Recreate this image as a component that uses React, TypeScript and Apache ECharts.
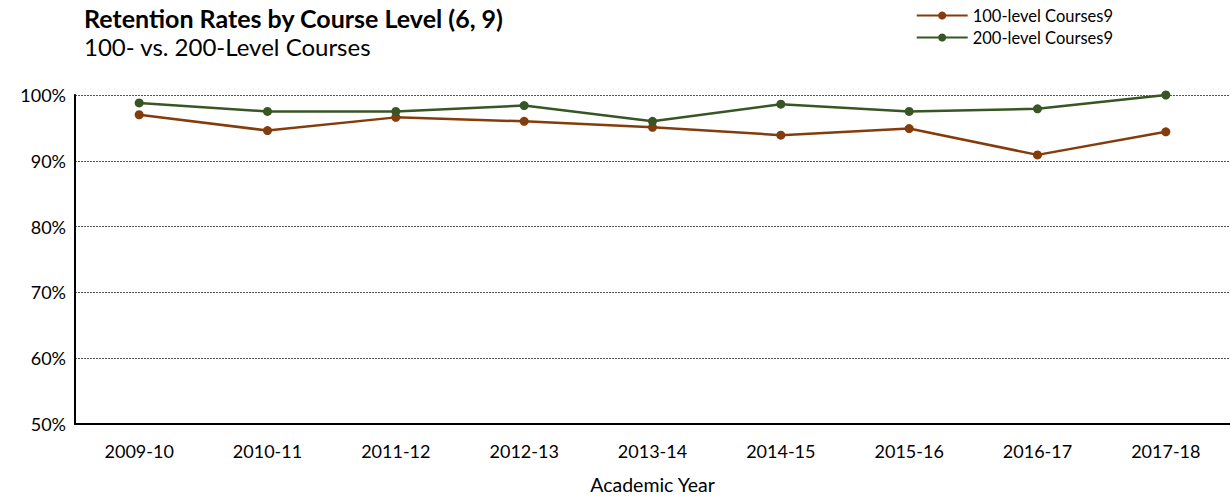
import React, { useEffect, useRef } from "react";
import * as echarts from "echarts";

const categories = ["2009-10", "2010-11", "2011-12", "2012-13", "2013-14", "2014-15", "2015-16", "2016-17", "2017-18"];
const level100 = [97.0, 94.6, 96.6, 96.0, 95.1, 93.9, 94.9, 90.9, 94.4];
const level200 = [98.8, 97.5, 97.5, 98.4, 96.0, 98.6, 97.5, 97.9, 100.0];
const seriesNames = ["100-level Courses9", "200-level Courses9"];

const FONT = "Lato, 'Open Sans', sans-serif";

export default function App() {
  const ref = useRef<HTMLDivElement>(null);
  useEffect(() => {
    if (!ref.current) return;
    const chart = echarts.init(ref.current, null, { renderer: "svg" });
    chart.setOption({
      animation: false,
      backgroundColor: "#ffffff",
      textStyle: { fontFamily: FONT },
      title: {
        text: "Retention Rates by Course Level (6, 9)",
        subtext: "100- vs. 200-Level Courses",
        left: 79,
        top: 0,
        itemGap: 4,
        textStyle: { fontFamily: FONT, fontSize: 25, fontWeight: "bold", color: "#000" },
        subtextStyle: { fontFamily: FONT, fontSize: 24, color: "#000" },
      },
      legend: {
        orient: "vertical",
        right: 112,
        top: 2,
        itemWidth: 51,
        itemHeight: 10,
        itemGap: 5,
        textStyle: { fontFamily: FONT, fontSize: 16.5, color: "#000" },
        data: seriesNames,
      },
      grid: { left: 75, right: 0, top: 95, bottom: 73, containLabel: false, outerBoundsMode: "none" },
      xAxis: {
        type: "category",
        data: categories,
        boundaryGap: true,
        name: "Academic Year",
        nameLocation: "middle",
        nameGap: 50,
        nameTextStyle: { fontFamily: FONT, fontSize: 19.5, color: "#000" },
        axisLine: { lineStyle: { color: "#000", width: 2 } },
        axisTick: { show: false },
        axisLabel: { fontFamily: FONT, fontSize: 18, color: "#000", margin: 18 },
      },
      yAxis: {
        type: "value",
        min: 50,
        max: 100,
        interval: 10,
        axisLine: { show: true, lineStyle: { color: "#000", width: 2 } },
        axisTick: { show: false },
        axisLabel: { fontFamily: FONT, fontSize: 18, color: "#000", margin: 9, formatter: "{value}%" },
        splitLine: { show: true, lineStyle: { color: "#555", type: [2, 1], width: 1 } },
      },
      series: [
        {
          name: seriesNames[0],
          type: "line",
          data: level100,
          symbol: "circle",
          symbolSize: 9,
          itemStyle: { color: "#843C0C" },
          lineStyle: { color: "#843C0C", width: 2.5 },
        },
        {
          name: seriesNames[1],
          type: "line",
          data: level200,
          symbol: "circle",
          symbolSize: 9,
          itemStyle: { color: "#375623" },
          lineStyle: { color: "#375623", width: 2.5 },
        },
      ],
    });
    return () => chart.dispose();
  }, []);
  return <div ref={ref} style={{ position: "fixed", left: 0, top: 0, width: 1230, height: 497 }} />;
}
